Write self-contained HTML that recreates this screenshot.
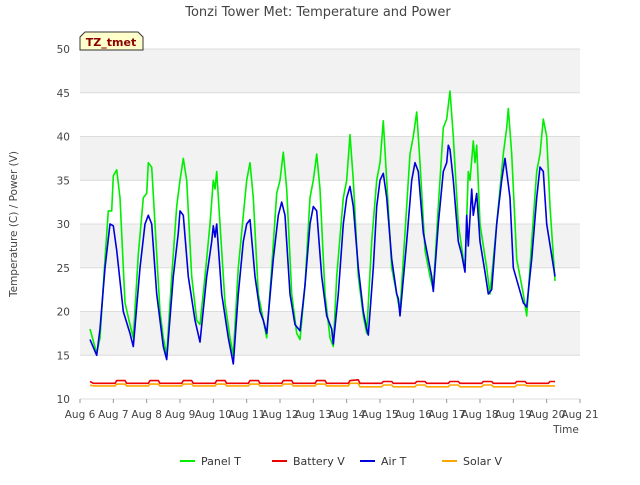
<!DOCTYPE html>
<html><head><meta charset="utf-8"><style>
body{margin:0;background:#fff;font-family:"Liberation Sans","DejaVu Sans",sans-serif}
svg text{font-family:"DejaVu Sans","Liberation Sans",sans-serif}
</style></head><body>
<svg id="chart" width="640" height="480" viewBox="0 0 640 480">
<rect width="640" height="480" fill="#fff"/>
<g id="bands"></g><g id="grid"></g><g id="series"></g><g id="axes"></g>
<text x="318" y="16" text-anchor="middle" font-size="13" fill="#444">Tonzi Tower Met: Temperature and Power</text>
<text transform="translate(17,224) rotate(-90)" text-anchor="middle" font-size="10.5" fill="#444">Temperature (C) / Power (V)</text>
<text x="566" y="433" text-anchor="middle" font-size="10.5" fill="#444">Time</text>
<g>
<path d="M80,50 L80,37 L85,32 L138,32 L143,37 L143,50 Z" fill="#ffffcc" stroke="#333"/>
<text x="111" y="46" text-anchor="middle" font-size="11" font-weight="bold" fill="#8b0000">TZ_tmet</text></g>
<g id="legend" font-size="11" fill="#333"></g>
</svg>
<script>
const yTicks=[10,15,20,25,30,35,40,45,50];
const xTickLabels=["Aug 6","Aug 7","Aug 8","Aug 9","Aug 10","Aug 11","Aug 12","Aug 13","Aug 14","Aug 15","Aug 16","Aug 17","Aug 18","Aug 19","Aug 20","Aug 21"];
const panelT=[[0.3,18],[0.5,15.2],[0.6,17],[0.75,26],[0.85,31.5],[0.95,31.5],[1.0,35.5],[1.1,36.2],[1.2,33],[1.35,21],[1.5,18.5],[1.6,17],[1.75,26.5],[1.9,33],[2.0,33.5],[2.05,37],[2.15,36.5],[2.25,30],[2.4,20],[2.5,17],[2.6,15],[2.75,24],[2.9,32],[3.0,35],[3.1,37.5],[3.2,35],[3.35,24],[3.5,19],[3.6,18.5],[3.75,24],[3.9,30],[4.0,35],[4.05,34],[4.1,36],[4.2,30],[4.35,21],[4.5,17],[4.6,15],[4.75,25],[4.9,31],[5.0,35],[5.1,37],[5.2,33],[5.35,22],[5.5,19],[5.6,17],[5.75,25],[5.9,33.5],[6.0,35],[6.1,38.2],[6.2,34],[6.35,22],[6.5,17.5],[6.6,16.8],[6.75,23],[6.9,33],[7.0,35],[7.1,38],[7.2,34],[7.35,22],[7.5,17],[7.6,16],[7.7,24],[7.9,33],[8.0,35],[8.1,40.2],[8.2,35],[8.35,24],[8.5,19.5],[8.6,17.5],[8.75,28],[8.9,35],[9.0,37],[9.1,41.8],[9.2,35],[9.35,25],[9.5,22],[9.6,20],[9.75,29],[9.9,38],[10.0,40],[10.1,42.8],[10.2,37],[10.35,27],[10.5,24],[10.6,22.5],[10.75,32],[10.9,41],[11.0,42],[11.1,45.2],[11.2,40],[11.35,30],[11.5,26],[11.55,25],[11.65,36],[11.7,35],[11.8,39.5],[11.85,37],[11.9,39],[12.0,30],[12.2,25],[12.3,22],[12.5,30],[12.7,38],[12.8,41],[12.85,43.2],[12.95,38],[13.1,26],[13.3,22],[13.4,19.5],[13.55,28],[13.7,36],[13.8,38],[13.9,42],[14.0,40],[14.1,32],[14.25,23.5]];
const airT=[[0.3,16.8],[0.5,15],[0.6,18],[0.75,25],[0.9,30],[1.0,29.8],[1.1,27],[1.3,20],[1.5,17.5],[1.6,16],[1.8,25],[1.95,30],[2.05,31],[2.15,30],[2.3,22],[2.5,16],[2.6,14.5],[2.8,24],[2.95,29],[3.0,31.5],[3.1,31],[3.25,24],[3.45,19],[3.6,16.5],[3.8,24],[3.95,28],[4.0,29.8],[4.05,28.5],[4.1,30],[4.25,22],[4.45,17],[4.55,15],[4.6,14],[4.75,22],[4.9,28],[5.0,30],[5.1,30.5],[5.25,24],[5.4,20],[5.5,19],[5.6,17.5],[5.8,26],[5.95,31],[6.05,32.5],[6.15,31],[6.3,22],[6.45,18.5],[6.6,17.8],[6.75,23],[6.9,30],[7.0,32],[7.1,31.5],[7.25,24],[7.4,19.5],[7.55,18],[7.6,16.3],[7.75,22],[7.9,30],[8.0,33],[8.1,34.3],[8.2,32],[8.35,25],[8.5,20],[8.6,18],[8.65,17.3],[8.8,25],[8.9,32],[9.0,35],[9.1,35.8],[9.2,33],[9.35,26],[9.5,22],[9.55,21.5],[9.6,19.5],[9.8,28],[9.95,35],[10.05,37],[10.15,36],[10.3,29],[10.45,26],[10.55,24],[10.6,22.3],[10.75,30],[10.9,36],[11.0,37],[11.05,39],[11.1,38.5],[11.2,35],[11.35,28],[11.45,26.5],[11.55,24.5],[11.6,31],[11.65,27.5],[11.75,34],[11.8,31],[11.9,33.5],[12.0,28],[12.15,24.5],[12.25,22],[12.35,22.5],[12.5,30],[12.65,35],[12.75,37.5],[12.9,33],[13.0,25],[13.15,23],[13.3,21],[13.4,20.5],[13.55,26],[13.7,33],[13.8,36.5],[13.9,36],[14.0,30],[14.25,24]];
const batteryV=[[0.3,12.0],[0.4,11.8],[1.05,11.8],[1.1,12.1],[1.35,12.1],[1.4,11.8],[2.05,11.8],[2.1,12.1],[2.35,12.1],[2.4,11.8],[3.05,11.8],[3.1,12.1],[3.35,12.1],[3.4,11.8],[4.05,11.8],[4.1,12.1],[4.35,12.1],[4.4,11.8],[5.05,11.8],[5.1,12.1],[5.35,12.1],[5.4,11.8],[6.05,11.8],[6.1,12.1],[6.35,12.1],[6.4,11.8],[7.05,11.8],[7.1,12.1],[7.35,12.1],[7.4,11.8],[8.05,11.8],[8.1,12.1],[8.35,12.2],[8.4,11.8],[9.05,11.8],[9.1,12.0],[9.35,12.0],[9.4,11.8],[10.05,11.8],[10.1,12.0],[10.35,12.0],[10.4,11.8],[11.05,11.8],[11.1,12.0],[11.35,12.0],[11.4,11.8],[12.05,11.8],[12.1,12.0],[12.35,12.0],[12.4,11.8],[13.05,11.8],[13.1,12.0],[13.35,12.0],[13.4,11.8],[14.05,11.8],[14.1,12.0],[14.25,12.0]];
const solarV=[[0.3,11.6],[0.4,11.5],[1.05,11.5],[1.1,11.7],[1.35,11.7],[1.4,11.5],[2.05,11.5],[2.1,11.7],[2.35,11.7],[2.4,11.5],[3.05,11.5],[3.1,11.7],[3.35,11.7],[3.4,11.5],[4.05,11.5],[4.1,11.7],[4.35,11.7],[4.4,11.5],[5.05,11.5],[5.1,11.7],[5.35,11.7],[5.4,11.5],[6.05,11.5],[6.1,11.7],[6.35,11.7],[6.4,11.5],[7.05,11.5],[7.1,11.7],[7.35,11.7],[7.4,11.5],[8.05,11.5],[8.1,11.8],[8.35,11.8],[8.4,11.4],[9.05,11.4],[9.1,11.6],[9.35,11.6],[9.4,11.4],[10.05,11.4],[10.1,11.6],[10.35,11.6],[10.4,11.4],[11.05,11.4],[11.1,11.6],[11.35,11.6],[11.4,11.4],[12.05,11.4],[12.1,11.6],[12.35,11.6],[12.4,11.4],[13.05,11.4],[13.1,11.6],[13.35,11.6],[13.4,11.5],[14.25,11.5]];
const seriesNames=["Panel T","Battery V","Air T","Solar V"];
const seriesColors=["#00ee00","#ee0000","#0000dd","#ffa500"];

const NS="http://www.w3.org/2000/svg";
const X0=80,X1=580,Y0=399,Y1=49;
function xs(d){return X0+(d/15)*(X1-X0);}
function ys(v){return Y0-(v-10)/40*(Y0-Y1);}
function mk(tag,attrs,parent){const e=document.createElementNS(NS,tag);for(const k in attrs)e.setAttribute(k,attrs[k]);parent.appendChild(e);return e;}
const bands=document.getElementById('bands'),grid=document.getElementById('grid'),axes=document.getElementById('axes'),series=document.getElementById('series'),legend=document.getElementById('legend');
mk('rect',{x:X0,y:Y1,width:X1-X0,height:Y0-Y1,fill:'#fff'},bands);
for(let i=0;i<yTicks.length-1;i++){
  if(i%2===1){const r=mk('rect',{x:X0,y:ys(yTicks[i+1]),width:X1-X0,height:ys(yTicks[i])-ys(yTicks[i+1]),fill:'#f2f2f2'},bands);
  
  }
}
yTicks.forEach(v=>{
  const l=mk('line',{x1:X0,x2:X1,y1:ys(v),y2:ys(v),stroke:'#dcdcdc','stroke-width':1},grid);
  
  
  const t=mk('text',{x:X0-10,y:ys(v)+4,'text-anchor':'end','font-size':10.5,fill:'#444'},axes);
  t.textContent=v;
  
  
});
xTickLabels.forEach((s,i)=>{
  const t=mk('text',{x:xs(i),y:418,'text-anchor':'middle','font-size':10.5,fill:'#444'},axes);
  t.textContent=s;
  
  
  const tk=mk('line',{x1:xs(i),x2:xs(i),y1:Y0,y2:Y0+4,stroke:'#999'},axes);
  
  
});
const data=[panelT,batteryV,airT,solarV];
const order=[0,3,1,2];
order.forEach(i=>{
  const d=data[i].map(p=>xs(p[0]).toFixed(1)+','+ys(p[1]).toFixed(1)).join(' ');
  const pl=mk('polyline',{points:d,fill:'none',stroke:seriesColors[i],'stroke-width':1.6,'stroke-linejoin':'round'},series);
  
  
});
const lx=[180,272,360,442];
seriesNames.forEach((n,i)=>{
  const g=mk('g',{},legend);
  
  
  mk('line',{x1:lx[i],x2:lx[i]+15,y1:461,y2:461,stroke:seriesColors[i],'stroke-width':2},g);
  const t=mk('text',{x:lx[i]+21,y:465,'font-size':11,fill:'#333'},g);t.textContent=n;
});
</script>
</body></html>
